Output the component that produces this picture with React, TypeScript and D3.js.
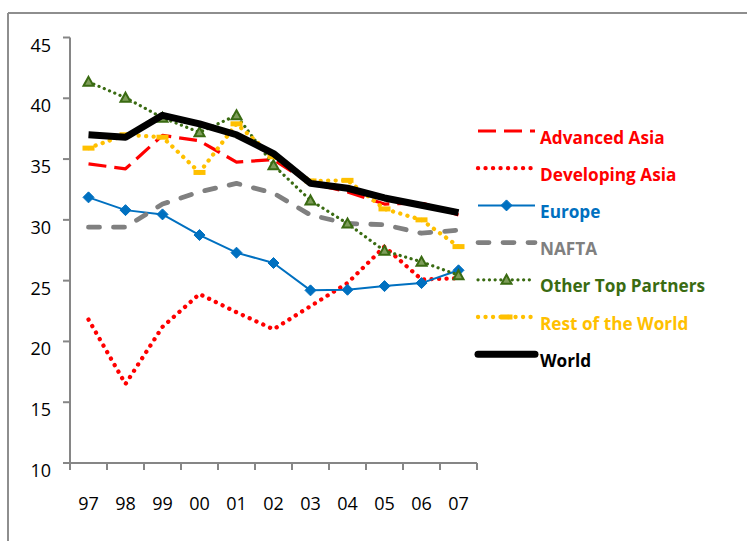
import React from "react";
import * as d3 from "d3";

const years = ["97", "98", "99", "00", "01", "02", "03", "04", "05", "06", "07"];
const yTicks = [10, 15, 20, 25, 30, 35, 40, 45];

const advancedAsia = [34.6, 34.2, 36.95, 36.5, 34.75, 34.95, 33.0, 32.3, 31.3, 31.4, 30.4];
const developingAsia = [21.8, 16.5, 21.2, 23.9, 22.4, 21.0, 22.9, 24.8, 27.8, 25.1, 25.2];
const europe = [31.85, 30.8, 30.45, 28.75, 27.3, 26.45, 24.2, 24.25, 24.55, 24.8, 25.85];
const nafta = [29.4, 29.4, 31.3, 32.3, 33.0, 32.2, 30.4, 29.7, 29.6, 28.9, 29.15];
const otherTop = [41.35, 40.05, 38.4, 37.2, 38.6, 34.5, 31.6, 29.7, 27.45, 26.55, 25.45];
const restWorld = [35.9, 37.0, 36.8, 33.9, 37.9, 35.2, 33.2, 33.25, 30.9, 30.0, 27.8];
const world = [37.0, 36.8, 38.6, 37.9, 37.0, 35.45, 33.0, 32.6, 31.8, 31.2, 30.6];

const seriesNames = [
  "Advanced Asia",
  "Developing Asia",
  "Europe",
  "NAFTA",
  "Other Top Partners",
  "Rest of the World",
  "World",
];

type Style = {
  color: string;
  width: number;
  dash?: string;
  cap?: "round" | "butt";
  marker?: "diamond" | "triangle" | "bar";
  textColor: string;
};

const styles: Style[] = [
  { color: "#FF0000", width: 3.2, dash: "18,8", cap: "butt", textColor: "#FF0000" },
  { color: "#FF0000", width: 4.3, dash: "0.1,7.4", cap: "round", textColor: "#FF0000" },
  { color: "#0070C0", width: 2, marker: "diamond", textColor: "#0070C0" },
  { color: "#808080", width: 4.8, dash: "11,14", cap: "round", textColor: "#808080" },
  { color: "#3A6B12", width: 3.2, dash: "0.1,5.6", cap: "round", marker: "triangle", textColor: "#3A6B12" },
  { color: "#FFC000", width: 4.3, dash: "0.1,7.4", cap: "round", marker: "bar", textColor: "#FFC000" },
  { color: "#000000", width: 7, textColor: "#000000" },
];

const allSeries = [advancedAsia, developingAsia, europe, nafta, otherTop, restWorld, world];

const FONT = "'Open Sans', 'Noto Sans', sans-serif";

function Marker({ type, x, y, color }: { type?: string; x: number; y: number; color: string }) {
  if (type === "diamond") {
    const s = 5.5;
    return <path d={`M${x},${y - s}L${x + s},${y}L${x},${y + s}L${x - s},${y}Z`} fill={color} stroke={color} strokeWidth={1} />;
  }
  if (type === "triangle") {
    const s = 5;
    return (
      <path
        d={`M${x},${y - s}L${x + s},${y + s * 0.8}L${x - s},${y + s * 0.8}Z`}
        fill="#7E9D5A"
        stroke={color}
        strokeWidth={2}
      />
    );
  }
  if (type === "bar") {
    return <rect x={x - 6} y={y - 2.5} width={12} height={5} fill={color} />;
  }
  return null;
}

export default function App() {
  const x = d3.scaleBand<string>().domain(years).range([70, 477]).padding(0);
  const y = d3.scaleLinear().domain([10, 45]).range([463, 37.5]);
  const cx = (d: string) => (x(d) ?? 0) + x.bandwidth() / 2;

  const line = d3
    .line<number>()
    .x((_, i) => cx(years[i]))
    .y((v) => y(v));

  const legendX1 = 478;
  const legendX2 = 535;
  const legendY0 = 131;
  const legendStep = 37.2;

  return (
    <svg
      width={747}
      height={541}
      style={{ position: "absolute", left: 0, top: 0, background: "#fff" }}
      fontFamily={FONT}
    >
      <rect x={0} y={0} width={747} height={541} fill="#fff" />
      {/* outer border */}
      <line x1={8} y1={13} x2={747} y2={13} stroke="#8E8E8E" strokeWidth={2} />
      <line x1={8} y1={13} x2={8} y2={541} stroke="#8E8E8E" strokeWidth={2} />

      {/* y axis */}
      <line x1={70} y1={y(45)} x2={70} y2={y(10)} stroke="#868686" strokeWidth={2} />
      {yTicks.map((t) => (
        <g key={t}>
          <line x1={63} y1={y(t)} x2={70} y2={y(t)} stroke="#868686" strokeWidth={2} />
          <text x={51} y={y(t) + 7} textAnchor="end" dominantBaseline="central" fontSize={18} fill="#000">
            {t}
          </text>
        </g>
      ))}

      {/* x axis */}
      <line x1={70} y1={y(10)} x2={477} y2={y(10)} stroke="#868686" strokeWidth={2} />
      {[...years.map((d) => x(d) ?? 0), 477].map((px, i) => (
        <line key={i} x1={px} y1={y(10)} x2={px} y2={y(10) + 7} stroke="#868686" strokeWidth={2} />
      ))}
      {years.map((d) => (
        <text key={d} x={cx(d)} y={503} textAnchor="middle" dominantBaseline="central" fontSize={18} fill="#000">
          {d}
        </text>
      ))}

      {/* series */}
      {allSeries.map((s, k) => {
        const st = styles[k];
        return (
          <g key={k}>
            <path
              d={line(s) ?? ""}
              fill="none"
              stroke={st.color}
              strokeWidth={st.width}
              strokeDasharray={st.dash}
              strokeLinecap={st.cap ?? "butt"}
              strokeLinejoin="round"
            />
            {st.marker &&
              s.map((v, i) => <Marker key={i} type={st.marker} x={cx(years[i])} y={y(v)} color={st.color} />)}
          </g>
        );
      })}

      {/* legend */}
      {seriesNames.map((name, k) => {
        const st = styles[k];
        const ly = legendY0 + k * legendStep;
        const mid = (legendX1 + legendX2) / 2;
        return (
          <g key={name}>
            <line
              x1={legendX1}
              y1={ly}
              x2={legendX2}
              y2={ly}
              stroke={st.color}
              strokeWidth={st.width}
              strokeDasharray={st.dash}
              strokeLinecap={st.cap ?? (k === 6 ? "round" : "butt")}
            />
            {st.marker && <Marker type={st.marker} x={mid} y={ly} color={st.color} />}
            <text
              x={540}
              y={ly + 6}
              dominantBaseline="central"
              fontSize={17.2}
              fontWeight="bold"
              fill={st.textColor}
            >
              {name}
            </text>
          </g>
        );
      })}
    </svg>
  );
}
